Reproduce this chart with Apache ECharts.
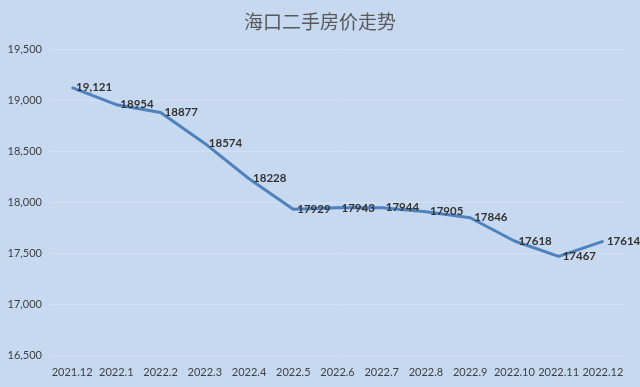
<!DOCTYPE html>
<html><head><meta charset="utf-8">
<script src="https://cdn.jsdelivr.net/npm/echarts@6/dist/echarts.min.js"></script>
<style>html,body{margin:0;padding:0;background:#c6d9f0;}#c{width:640px;height:387px;}</style>
</head><body><div id="c"></div>
<script>
const categories = ['2021.12','2022.1','2022.2','2022.3','2022.4','2022.5','2022.6','2022.7','2022.8','2022.9','2022.10','2022.11','2022.12'];
const prices = [19121,18954,18877,18574,18228,17929,17943,17944,17905,17846,17618,17467,17614];
const chart = echarts.init(document.getElementById('c'));
chart.setOption({
  backgroundColor: '#c6d9f0',
  animation: false,
  title: {
    text: '海口二手房价走势', left: 'center', top: 7,
    textStyle: {fontFamily: 'Noto Sans CJK SC', fontSize: 19, fontWeight: 'normal', color: '#595959'}
  },
  grid: {left: 50, right: 15, top: 49, bottom: 32},
  xAxis: {
    type: 'category', data: categories, boundaryGap: true,
    axisLine: {show: false}, axisTick: {show: false},
    axisLabel: {color: '#404040', fontFamily: 'Lato', fontSize: 11, margin: 12, interval: 0}
  },
  yAxis: {
    type: 'value', min: 16500, max: 19500, interval: 500,
    axisLine: {show: false}, axisTick: {show: false},
    splitLine: {lineStyle: {color: '#d3e1f3', width: 1}},
    axisLabel: {color: '#404040', fontFamily: 'Lato', fontSize: 11, margin: 8, align: 'right',
      formatter: v => v.toLocaleString('en-US')}
  },
  series: [{
    type: 'line', data: prices, symbol: 'circle', symbolSize: 2, showSymbol: true, showAllSymbol: true,
    itemStyle: {color: '#4f81bd'},
    lineStyle: {color: '#4f81bd', width: 3},
    label: {show: true, position: 'right', distance: 3, color: '#333', fontFamily: 'Lato', fontWeight: 'bold', fontSize: 11.5,
      formatter: p => p.dataIndex === 0 ? p.value.toLocaleString('en-US') : String(p.value)}
  }]
});
</script></body></html>
